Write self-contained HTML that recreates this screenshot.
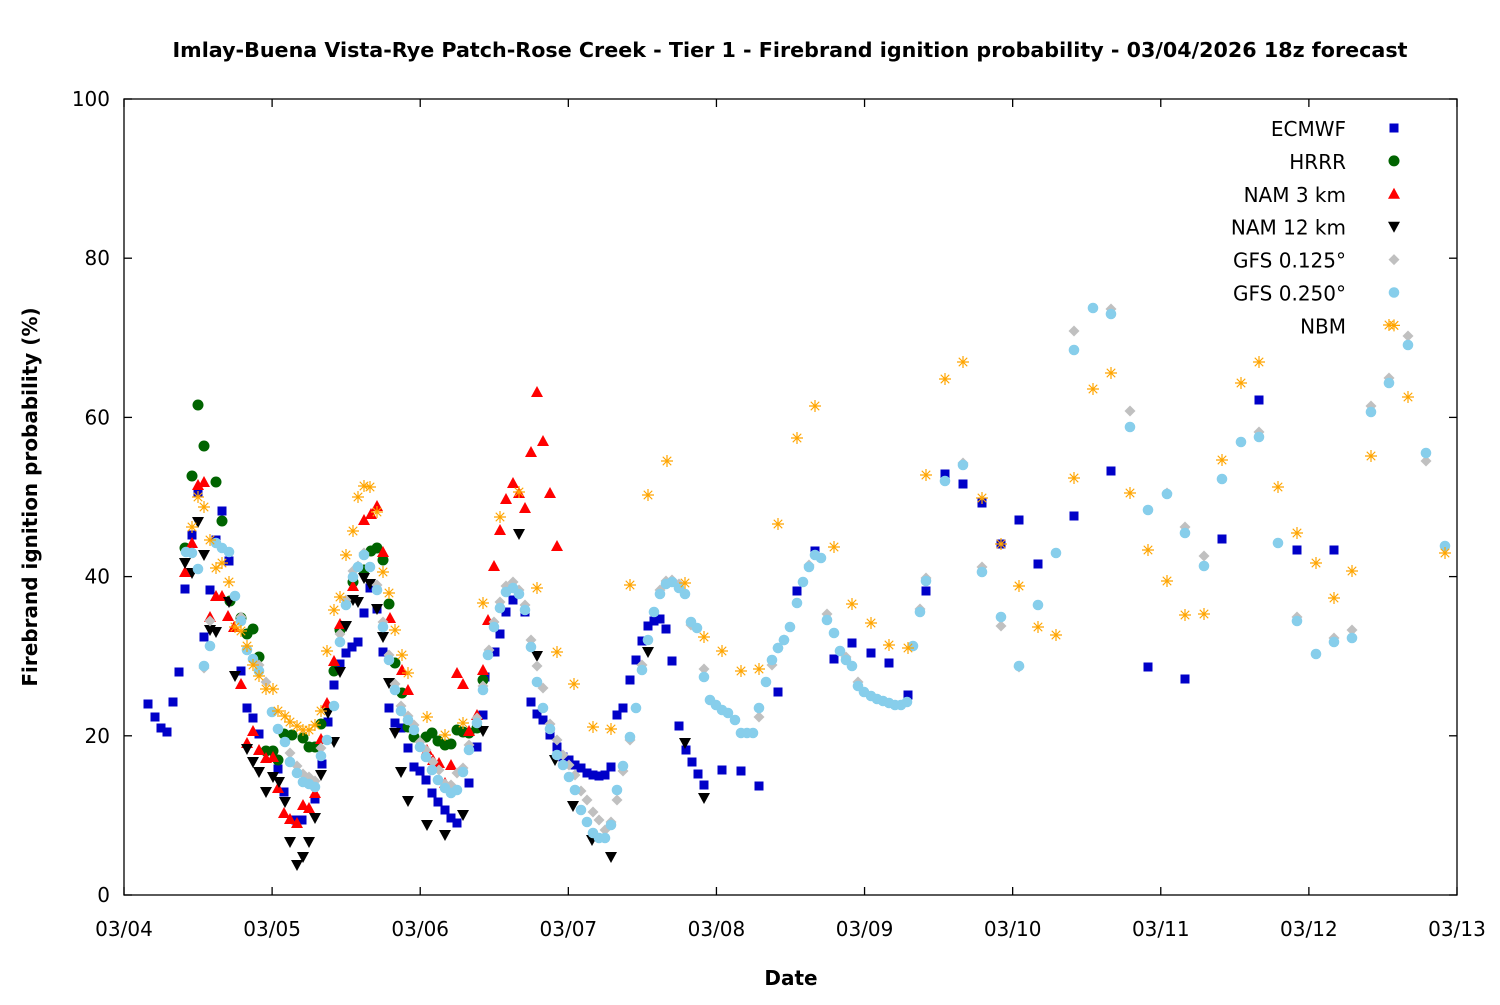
<!DOCTYPE html>
<html><head><meta charset="utf-8"><style>
html,body{margin:0;padding:0;background:#fff;}
svg text{font-family:"DejaVu Sans","Liberation Sans",sans-serif;}
</style></head><body>
<svg id="s" width="1500" height="1000" xmlns="http://www.w3.org/2000/svg">
<rect width="1500" height="1000" fill="#fff"/>
<text x="790" y="57" text-anchor="middle" font-size="20.5" font-weight="bold" textLength="1235" lengthAdjust="spacingAndGlyphs">Imlay-Buena Vista-Rye Patch-Rose Creek - Tier 1 - Firebrand ignition probability - 03/04/2026 18z forecast</text>
<text transform="translate(37,497) rotate(-90)" text-anchor="middle" font-size="20" font-weight="bold">Firebrand ignition probability (%)</text>
<text x="791" y="985" text-anchor="middle" font-size="20" font-weight="bold">Date</text>
<g id="ax" stroke="#000" stroke-width="1.3" fill="none"></g>
<g id="lab" font-size="20"></g>
<g id="pts"></g>
</svg>
<script>
var NS="http://www.w3.org/2000/svg",s=document.getElementById('s');
function el(p,t,a,txt){var e=document.createElementNS(NS,t);for(var k in a)e.setAttribute(k,a[k]);if(txt!=null)e.textContent=txt;p.appendChild(e);return e;}
var ax=document.getElementById('ax'),lab=document.getElementById('lab');
el(ax,'rect',{x:124,y:99,width:1333,height:796});
for(var i=0;i<=5;i++){var y=895-i*159.2;el(ax,'line',{x1:124,y1:y,x2:132,y2:y});el(ax,'line',{x1:1457,y1:y,x2:1449,y2:y});
el(lab,'text',{x:110,y:y+7,'text-anchor':'end'},String(i*20));}
for(var i=0;i<=9;i++){var x=124+i*148.11;el(ax,'line',{x1:x,y1:895,x2:x,y2:887});el(ax,'line',{x1:x,y1:99,x2:x,y2:107});
el(lab,'text',{x:x,y:936,'text-anchor':'middle'},'03/'+(i+4<10?'0':'')+(i+4));}
var g=document.getElementById('pts');
function sym(t,x,y){
 if(t==0)el(g,'rect',{x:x-4.5,y:y-4.5,width:9,height:9,fill:'#0000c8'});
 else if(t==1)el(g,'circle',{cx:x,cy:y,r:5.5,fill:'#006400'});
 else if(t==2)el(g,'polygon',{points:(x)+','+(y-6)+' '+(x+6)+','+(y+5)+' '+(x-6)+','+(y+5),fill:'#ff0000'});
 else if(t==3)el(g,'polygon',{points:(x)+','+(y+6)+' '+(x+6)+','+(y-5)+' '+(x-6)+','+(y-5),fill:'#000'});
 else if(t==4)el(g,'polygon',{points:x+','+(y-5.5)+' '+(x+5.5)+','+y+' '+x+','+(y+5.5)+' '+(x-5.5)+','+y,fill:'#c0c0c0'});
 else if(t==5)el(g,'circle',{cx:x,cy:y,r:5.3,fill:'#87ceeb'});
 else {var d="";for(var k=0;k<4;k++){var a=k*Math.PI/4,c=Math.cos(a)*6,sn=Math.sin(a)*6;d+="M"+(x-c)+","+(y-sn)+"L"+(x+c)+","+(y+sn);}
  el(g,'path',{d:d,stroke:'#ffa500','stroke-width':1.2,fill:'none'});}
}
var D=[
[148,704,155,717,161,728,167,732,173,702,179,672,185,589,192,535,198,493,204,637,210,590,216,540,222,511,229,561,241,671,247,708,253,718,259,734,278,769,284,792,296,820,302,820,315,799,322,764,328,722,334,685,340,664,346,653,352,647,358,642,364,613,370,588,377,609,383,652,389,708,395,723,401,728,408,748,414,767,420,771,426,780,432,793,438,802,445,810,451,818,457,823,469,783,477,747,483,715,485,677,495,652,500,634,506,612,513,600,525,612,531,702,537,714,543,720,550,735,557,747,563,757,569,760,575,765,581,768,587,773,593,775,599,776,605,775,611,767,617,715,623,708,630,680,636,660,642,641,648,626,654,621,660,619,666,629,672,661,679,726,686,750,692,762,698,774,704,785,722,770,741,771,759,786,778,692,797,591,815,551,834,659,852,643,871,653,889,663,908,695,926,591,945,474,963,484,982,503,1001,544,1019,520,1038,564,1074,516,1111,471,1148,667,1185,679,1222,539,1259,400,1297,550,1334,550],
[198,405,204,446,192,476,216,482,222,521,185,548,230,601,241,618,253,629,247,634,259,657,266,751,273,751,278,760,284,734,292,735,303,738,309,747,315,747,321,724,334,671,340,630,353,582,364,570,371,551,377,548,383,560,389,604,395,663,402,693,408,727,414,737,426,737,432,733,438,741,445,745,451,744,457,730,463,732,469,733,477,728,483,680],
[198,485,204,482,192,543,185,572,210,617,216,596,222,596,228,616,234,627,241,684,253,731,247,743,259,750,266,758,273,757,278,788,284,813,290,819,297,823,303,805,309,808,315,793,321,739,327,703,334,661,340,624,353,586,364,520,371,514,377,506,383,552,390,618,402,670,408,690,427,750,433,760,439,763,451,765,445,783,457,673,463,684,469,731,477,715,483,670,488,620,494,566,500,530,506,499,513,483,519,493,525,508,531,452,537,392,543,441,550,493,557,546],
[198,522,185,563,192,573,204,555,210,630,216,632,229,602,235,676,247,749,253,762,259,772,266,792,273,777,279,782,285,802,290,842,297,865,303,857,309,842,315,818,321,775,328,713,334,742,340,672,346,626,353,600,358,602,364,578,370,584,377,609,383,637,389,683,395,733,401,772,408,801,427,825,445,835,463,815,483,731,519,534,537,656,555,760,573,806,592,840,611,857,648,652,685,743,704,798],
[204,668,210,621,241,617,259,665,266,682,290,753,297,766,303,774,309,777,315,781,321,748,340,634,346,600,353,571,364,553,358,566,377,585,383,622,389,655,395,684,401,706,408,716,414,725,420,742,426,750,433,762,439,770,445,784,451,785,457,773,463,768,469,745,477,718,483,686,489,650,494,622,500,602,506,586,513,582,519,590,525,605,531,640,537,666,543,688,550,724,557,740,563,755,569,765,575,775,581,791,587,800,593,812,599,820,605,830,611,822,617,800,623,771,630,740,642,665,660,590,666,581,672,580,679,584,691,625,704,669,759,717,772,665,778,648,784,640,809,565,827,614,846,657,858,682,920,609,926,578,963,463,982,567,1001,626,1019,667,1074,331,1111,309,1130,411,1167,493,1185,527,1204,556,1259,432,1297,617,1334,638,1352,630,1371,406,1389,378,1408,336,1426,461],
[186,552,192,553,198,569,204,666,210,646,216,543,222,548,229,552,235,596,241,621,247,650,253,659,259,671,272,712,278,729,285,742,290,762,297,773,303,782,309,784,315,787,321,756,327,740,334,706,340,642,346,605,353,577,358,567,364,555,370,567,377,590,383,627,389,660,395,690,401,711,408,720,414,730,420,747,426,757,432,770,438,780,445,788,451,793,457,790,463,772,469,750,477,723,483,690,488,655,494,627,500,608,506,592,513,588,519,594,525,610,531,647,537,682,543,708,550,729,557,755,563,765,569,777,575,790,581,810,587,822,593,833,599,838,605,838,611,825,617,790,623,766,630,737,636,708,642,670,648,640,654,612,660,594,666,584,672,582,679,588,685,594,691,622,697,628,704,677,710,700,716,705,722,710,728,713,735,720,741,733,747,733,753,733,759,708,766,682,772,660,778,648,784,640,790,627,797,603,803,582,809,567,815,555,821,558,827,620,834,633,840,651,846,660,852,666,858,686,864,692,871,696,877,699,883,701,889,703,895,705,901,705,907,702,913,646,920,612,926,581,945,481,963,465,982,572,1001,617,1019,666,1038,605,1056,553,1074,350,1093,308,1111,314,1130,427,1148,510,1167,494,1185,533,1204,566,1222,479,1241,442,1259,437,1278,543,1297,621,1316,654,1334,642,1352,638,1371,412,1389,383,1408,345,1426,453,1445,546],
[198,497,204,507,192,527,210,540,216,568,222,563,229,582,235,627,241,631,247,646,253,665,259,676,266,689,273,689,278,711,285,716,290,722,297,726,303,730,309,730,315,725,321,711,327,651,334,610,340,597,346,555,353,531,358,497,364,486,370,487,377,512,383,572,389,593,395,630,402,655,408,673,427,717,445,735,463,723,483,603,500,517,519,492,537,588,557,652,574,684,593,727,611,729,630,585,648,495,667,461,685,583,704,637,722,651,741,671,759,669,778,524,797,438,815,406,834,547,852,604,871,623,889,645,908,648,926,475,945,379,963,362,982,498,1001,544,1019,586,1038,627,1056,635,1074,478,1093,389,1111,373,1130,493,1148,550,1167,581,1185,615,1204,614,1222,460,1241,383,1259,362,1278,487,1297,533,1316,563,1334,598,1352,571,1371,456,1389,325,1408,397,1445,553]];
for(var t=0;t<7;t++){var a=D[t];for(var i=0;i<a.length;i+=2)sym(t,a[i],a[i+1]);}
var L=["ECMWF","HRRR","NAM 3 km","NAM 12 km","GFS 0.125°","GFS 0.250°","NBM"];
for(var t=0;t<7;t++){var y=128+t*32.9;el(lab,'text',{x:1346,y:y+8,'text-anchor':'end'},L[t]);sym(t,1394,y);}
</script>
</body></html>
